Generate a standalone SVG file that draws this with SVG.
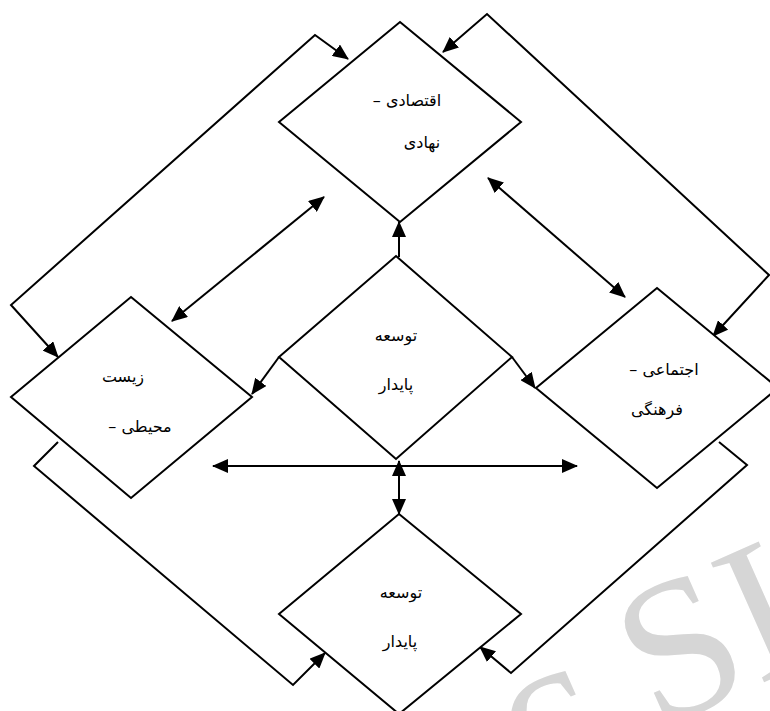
<svg xmlns="http://www.w3.org/2000/svg" width="770" height="711" viewBox="0 0 770 711">
<style>
.node polygon{fill:#fff;stroke:#000;stroke-width:2}
.node text{font-family:"DejaVu Serif","Liberation Serif","DejaVu Sans",serif;font-size:16px;fill:#000;text-anchor:middle}
#connectors path{fill:none;stroke:#000;stroke-width:2}
.one{marker-end:url(#ah)}
.two{marker-start:url(#ah);marker-end:url(#ah)}
.wm{font-family:"Liberation Serif",serif;font-size:200px;fill:#d6d6d6}
</style>
<defs>
<marker id="ah" viewBox="0 0 16 14" refX="15" refY="7" markerWidth="16" markerHeight="14" markerUnits="userSpaceOnUse" orient="auto-start-reverse">
<path d="M0,0 L16,7 L0,14 z" fill="#000"/>
</marker>
</defs>
<rect width="770" height="711" fill="#fff"/>
<text class="wm" transform="translate(529,787) rotate(-24)">c SID</text>
<g id="connectors">
<path class="two" d="M58,357 L11,305 L315,35 L348,59"/>
<path class="two" d="M443,52 L487,14 L769,275 L713,336"/>
<path class="one" d="M58,442 L34,466 L293,685 L325,653"/>
<path class="one" d="M719,442 L747,465 L511,673 L480,647"/>
<path class="two" d="M488,178 L625,297"/>
<path class="two" d="M324,197 L172,321"/>
<path class="one" d="M399,257 L399,222"/>
<path class="one" d="M279,357 L252,394"/>
<path class="one" d="M512,357 L535,388"/>
<path class="two" d="M213,466 L577,466"/>
<path class="two" d="M399,461 L399,514"/>
</g>
<g id="node-economic" class="node">
<polygon points="400,22 521,122 400,222 279,122"/>
<text x="407" y="106" direction="rtl">اقتصادی –</text>
<text x="422" y="148" direction="rtl">نهادی</text>
</g>
<g id="node-environmental" class="node">
<polygon points="131,297 252,397 131,498 11,397"/>
<text x="123" y="382" direction="rtl">زیست</text>
<text x="140" y="432" direction="rtl">محیطی –</text>
</g>
<g id="node-center" class="node">
<polygon points="396,256 512,357 396,459 279,357"/>
<text x="396" y="341" direction="rtl">توسعه</text>
<text x="396" y="390" direction="rtl">پایدار</text>
</g>
<g id="node-social" class="node">
<polygon points="657,288 778,388 657,488 536,388"/>
<text x="664" y="375" direction="rtl">اجتماعی –</text>
<text x="657" y="415" direction="rtl">فرهنگی</text>
</g>
<g id="node-bottom" class="node">
<polygon points="399,514 521,614 399,714 279,614"/>
<text x="401" y="598" direction="rtl">توسعه</text>
<text x="400" y="647" direction="rtl">پایدار</text>
</g>
</svg>
